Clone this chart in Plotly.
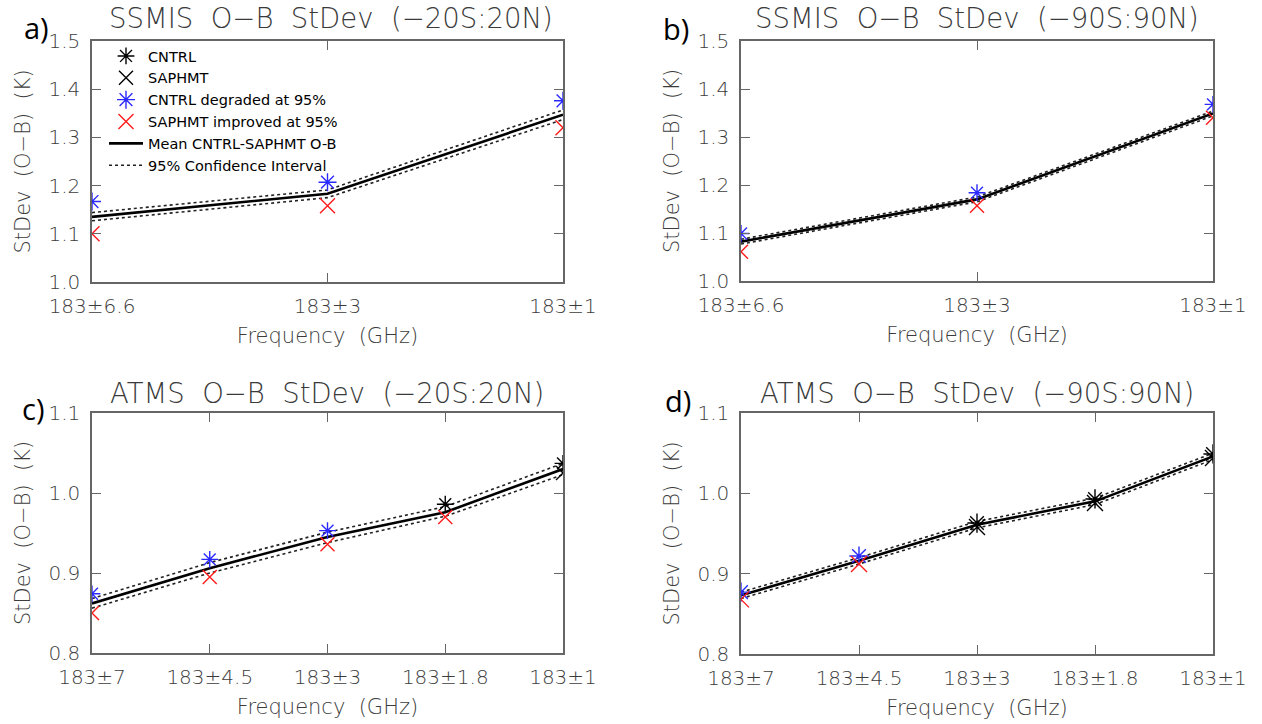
import plotly.graph_objects as go

# ---------------- data ----------------
ssmis_labels = ["183±6.6", "183±3", "183±1"]
atms_labels = ["183±7", "183±4.5", "183±3", "183±1.8", "183±1"]

# a) SSMIS -20S:20N
a_cntrl = [1.167, 1.207, 1.376]
a_cntrl_deg = [True, True, True]
a_saphmt = [1.100, 1.158, 1.320]
a_saphmt_imp = [True, True, True]
a_mean = [1.135, 1.183, 1.347]
a_ci_hi = [1.144, 1.191, 1.357]
a_ci_lo = [1.127, 1.175, 1.337]

# b) SSMIS -90S:90N
b_cntrl = [1.099, 1.184, 1.368]
b_cntrl_deg = [True, True, True]
b_saphmt = [1.061, 1.157, 1.340]
b_saphmt_imp = [True, True, True]
b_mean = [1.082, 1.170, 1.349]
b_ci_hi = [1.087, 1.175, 1.354]
b_ci_lo = [1.077, 1.165, 1.344]

# c) ATMS -20S:20N
c_cntrl = [0.874, 0.917, 0.953, 0.986, 1.037]
c_cntrl_deg = [True, True, True, False, False]
c_saphmt = [0.850, 0.895, 0.936, 0.970, 1.025]
c_saphmt_imp = [True, True, True, True, False]
c_mean = [0.862, 0.906, 0.945, 0.976, 1.030]
c_ci_hi = [0.868, 0.913, 0.951, 0.983, 1.037]
c_ci_lo = [0.856, 0.900, 0.938, 0.971, 1.023]

# d) ATMS -90S:90N
d_cntrl = [0.877, 0.922, 0.963, 0.993, 1.049]
d_cntrl_deg = [True, True, False, False, False]
d_saphmt = [0.868, 0.912, 0.958, 0.988, 1.044]
d_saphmt_imp = [True, True, False, False, False]
d_mean = [0.873, 0.916, 0.961, 0.990, 1.046]
d_ci_hi = [0.877, 0.920, 0.965, 0.994, 1.050]
d_ci_lo = [0.869, 0.912, 0.957, 0.986, 1.042]

sp = "\u00a0\u00a0"
titles = [f"SSMIS{sp}O\u2212B{sp}StDev{sp}(\u221220S:20N)", f"SSMIS{sp}O\u2212B{sp}StDev{sp}(\u221290S:90N)",
          f"ATMS{sp}O\u2212B{sp}StDev{sp}(\u221220S:20N)", f"ATMS{sp}O\u2212B{sp}StDev{sp}(\u221290S:90N)"]
panel_letters = ["a)", "b)", "c)", "d)"]
y_ranges = [[1.0, 1.5], [1.0, 1.5], [0.8, 1.1], [0.8, 1.1]]
x_title = f"Frequency{sp}(GHz)"
y_title = f"StDev{sp}(O\u2212B){sp}(K)"

panels = [
    (ssmis_labels, a_cntrl, a_cntrl_deg, a_saphmt, a_saphmt_imp, a_mean, a_ci_hi, a_ci_lo),
    (ssmis_labels, b_cntrl, b_cntrl_deg, b_saphmt, b_saphmt_imp, b_mean, b_ci_hi, b_ci_lo),
    (atms_labels, c_cntrl, c_cntrl_deg, c_saphmt, c_saphmt_imp, c_mean, c_ci_hi, c_ci_lo),
    (atms_labels, d_cntrl, d_cntrl_deg, d_saphmt, d_saphmt_imp, d_mean, d_ci_hi, d_ci_lo),
]

# ---------------- layout geometry (pixels) ----------------
W, H = 1262, 724
boxes = [(92, 563, 41, 282), (741, 1213, 41, 281), (92, 563, 413, 653), (741, 1213, 413, 654)]
marker_sizes = [15, 14, 14, 16]
title_pos = [(331, 18), (977, 18), (327, 393), (977, 393)]
letter_pos = [(36, 27), (676, 29), (33, 408), (678, 400)]

fig = go.Figure()

legend_src = {"cn": 2, "sn": 2, "cd": 0, "si": 0, "mean": 0, "ci": 0}

for i, (labels, cn, cdeg, sa, simp, mean, cihi, cilo) in enumerate(panels):
    xa = "x" if i == 0 else f"x{i+1}"
    ya = "y" if i == 0 else f"y{i+1}"
    xs = list(range(len(labels)))
    ms = marker_sizes[i]

    for k, ci in enumerate([cihi, cilo]):
        fig.add_trace(go.Scatter(
            x=xs, y=ci, mode="lines", xaxis=xa, yaxis=ya,
            line=dict(color="#222222", width=1.6, dash="dot"),
            name="95% Confidence Interval", legendgroup="ci", legendrank=6,
            showlegend=(legend_src["ci"] == i and k == 0)))
    fig.add_trace(go.Scatter(
        x=xs, y=mean, mode="lines", xaxis=xa, yaxis=ya,
        line=dict(color="black", width=2.6),
        name="Mean CNTRL-SAPHMT O-B", legendgroup="mean", legendrank=5,
        showlegend=(legend_src["mean"] == i)))

    groups = [
        ("cn", "CNTRL", "asterisk-open", "black", cn, [not f for f in cdeg], 1),
        ("sn", "SAPHMT", "x-thin-open", "black", sa, [not f for f in simp], 2),
        ("cd", "CNTRL degraded at 95%", "asterisk-open", "#2a2aff", cn, cdeg, 3),
        ("si", "SAPHMT improved at 95%", "x-thin-open", "#ff1a1a", sa, simp, 4),
    ]
    for key, name, sym, col, vals, mask, rank in groups:
        px = [x for x, m in zip(xs, mask) if m]
        py = [v for v, m in zip(vals, mask) if m]
        fig.add_trace(go.Scatter(
            x=px, y=py, mode="markers", xaxis=xa, yaxis=ya,
            marker=dict(symbol=sym, size=ms, color=col, line=dict(color=col, width=1.4)),
            name=name, legendgroup=key, legendrank=rank,
            showlegend=(legend_src[key] == i)))

tick_font = dict(family="DejaVu Sans", size=20, color="#3c3c3c", weight=200)
axis_title_font = dict(family="DejaVu Sans", size=21, color="#3c3c3c", weight=200)

layout = dict(
    width=W, height=H, margin=dict(l=0, r=0, t=0, b=0),
    paper_bgcolor="white", plot_bgcolor="white",
    legend=dict(x=104 / W, y=1 - 40 / H, xanchor="left", yanchor="top",
                bgcolor="rgba(0,0,0,0)", font=dict(family="DejaVu Sans", size=14.5, color="black"),
                tracegroupgap=0, itemsizing="trace", itemwidth=34),
    annotations=[],
)

for i, (labels, *_rest) in enumerate(panels):
    x0, x1, y0, y1 = boxes[i]
    sfx = "" if i == 0 else str(i + 1)
    n = len(labels)
    layout["xaxis" + sfx] = dict(
        domain=[x0 / W, x1 / W], anchor="y" + sfx, range=[0, n - 1],
        tickmode="array", tickvals=list(range(n)), ticktext=labels,
        ticks="inside", ticklen=9, tickcolor="#666666", tickwidth=1.2,
        showline=True, linecolor="#666666", linewidth=1.5, mirror="ticks",
        showgrid=False, zeroline=False, tickfont=tick_font, ticklabelstandoff=5,
        title=dict(text=x_title, font=axis_title_font, standoff=12),
        automargin=False,
    )
    layout["yaxis" + sfx] = dict(
        domain=[1 - y1 / H, 1 - y0 / H], anchor="x" + sfx, range=y_ranges[i],
        dtick=0.1, tick0=0, tickformat=".1f",
        ticks="inside", ticklen=9, tickcolor="#666666", tickwidth=1.2,
        showline=True, linecolor="#666666", linewidth=1.5, mirror="ticks",
        showgrid=False, zeroline=False, tickfont=tick_font, ticklabelstandoff=6,
        title=dict(text=y_title, font=axis_title_font, standoff=12),
        automargin=False,
    )
    tx, ty = title_pos[i]
    layout["annotations"].append(dict(
        text=titles[i], x=tx / W, y=1 - ty / H, xref="paper", yref="paper",
        xanchor="center", yanchor="middle", showarrow=False,
        font=dict(family="DejaVu Sans", size=27.5, color="#3a3a3a", weight=200)))
    lx, ly = letter_pos[i]
    layout["annotations"].append(dict(
        text=panel_letters[i], x=lx / W, y=1 - ly / H, xref="paper", yref="paper",
        xanchor="center", yanchor="middle", showarrow=False,
        font=dict(family="Open Sans", size=29, color="black")))

fig.update_layout(**layout)
fig.write_html("out.html")
